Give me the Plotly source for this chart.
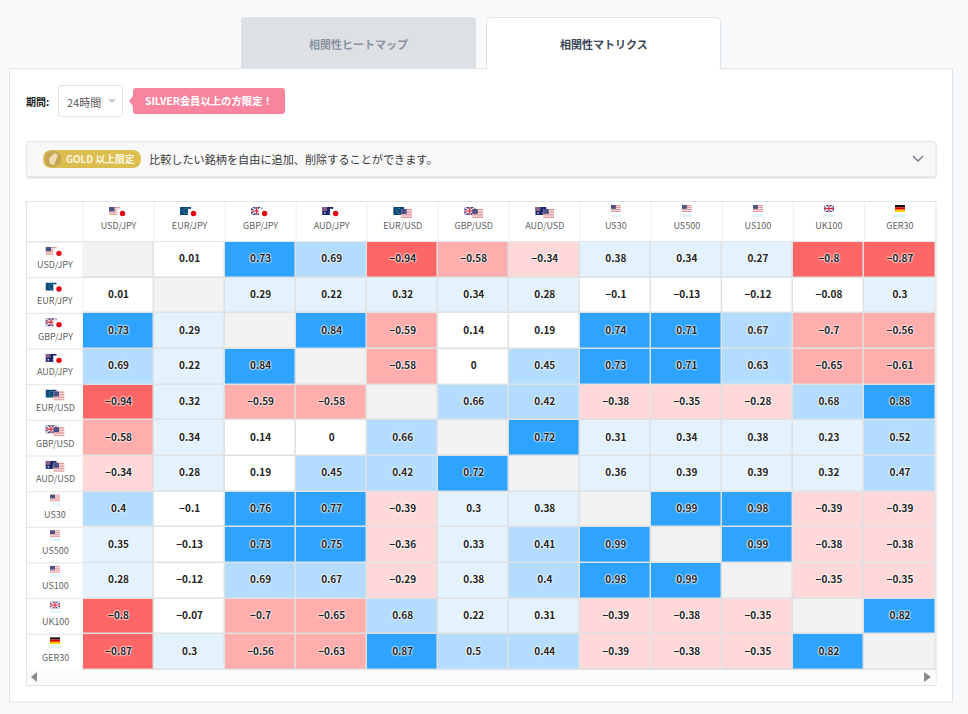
import base64
import plotly.graph_objects as go

W, H = 968, 714
FONT = "Noto Sans CJK JP"

symbols = ["USD/JPY", "EUR/JPY", "GBP/JPY", "AUD/JPY", "EUR/USD", "GBP/USD", "AUD/USD",
           "US30", "US500", "US100", "UK100", "GER30"]

usd_jpy = [None, 0.01, 0.73, 0.69, -0.94, -0.58, -0.34, 0.38, 0.34, 0.27, -0.8, -0.87]
eur_jpy = [0.01, None, 0.29, 0.22, 0.32, 0.34, 0.28, -0.1, -0.13, -0.12, -0.08, 0.3]
gbp_jpy = [0.73, 0.29, None, 0.84, -0.59, 0.14, 0.19, 0.74, 0.71, 0.67, -0.7, -0.56]
aud_jpy = [0.69, 0.22, 0.84, None, -0.58, 0, 0.45, 0.73, 0.71, 0.63, -0.65, -0.61]
eur_usd = [-0.94, 0.32, -0.59, -0.58, None, 0.66, 0.42, -0.38, -0.35, -0.28, 0.68, 0.88]
gbp_usd = [-0.58, 0.34, 0.14, 0, 0.66, None, 0.72, 0.31, 0.34, 0.38, 0.23, 0.52]
aud_usd = [-0.34, 0.28, 0.19, 0.45, 0.42, 0.72, None, 0.36, 0.39, 0.39, 0.32, 0.47]
us30 = [0.4, -0.1, 0.76, 0.77, -0.39, 0.3, 0.38, None, 0.99, 0.98, -0.39, -0.39]
us500 = [0.35, -0.13, 0.73, 0.75, -0.36, 0.33, 0.41, 0.99, None, 0.99, -0.38, -0.38]
us100 = [0.28, -0.12, 0.69, 0.67, -0.29, 0.38, 0.4, 0.98, 0.99, None, -0.35, -0.35]
uk100 = [-0.8, -0.07, -0.7, -0.65, 0.68, 0.22, 0.31, -0.39, -0.38, -0.35, None, 0.82]
ger30 = [-0.87, 0.3, -0.56, -0.63, 0.87, 0.5, 0.44, -0.39, -0.38, -0.35, 0.82, None]

matrix = [usd_jpy, eur_jpy, gbp_jpy, aud_jpy, eur_usd, gbp_usd, aud_usd,
          us30, us500, us100, uk100, ger30]

# step colours; -0.8 itself belongs to the darkest red
bin_edges = [-1, -0.79, -0.5, -0.2, 0.2, 0.395, 0.7, 1]
bin_colors = ["#ff6666", "#ffadad", "#ffd9d9", "#ffffff", "#e3f2fd", "#b3dcff", "#2ea3ff"]

# table body in pixels
TX0, TX1, TY0, TY1 = 83, 935.5, 242, 670


def fx(x):
    return x / W


def fy(y):
    return 1 - y / H


def step_scale():
    out = []
    for i, c in enumerate(bin_colors):
        out.append([(bin_edges[i] + 1) / 2, c])
        out.append([(bin_edges[i + 1] + 1) / 2, c])
    return out


def label(v):
    if v is None:
        return ""
    return str(v).replace("-", "−")


def rect(x0, y0, x1, y1, fill, line=None, r=0, tabs=False, width=1, opacity=1, layer="below"):
    # rounded box as svg path, tabs=True only rounds the top corners
    if r == 0:
        p = f"M{fx(x0)},{fy(y0)}L{fx(x1)},{fy(y0)}L{fx(x1)},{fy(y1)}L{fx(x0)},{fy(y1)}Z"
    else:
        rx, ry = fx(r), r / H
        p = (f"M{fx(x0)},{fy(y0) - ry}Q{fx(x0)},{fy(y0)} {fx(x0) + rx},{fy(y0)}"
             f"L{fx(x1) - rx},{fy(y0)}Q{fx(x1)},{fy(y0)} {fx(x1)},{fy(y0) - ry}")
        if tabs:
            p += f"L{fx(x1)},{fy(y1)}L{fx(x0)},{fy(y1)}Z"
        else:
            p += (f"L{fx(x1)},{fy(y1) + ry}Q{fx(x1)},{fy(y1)} {fx(x1) - rx},{fy(y1)}"
                  f"L{fx(x0) + rx},{fy(y1)}Q{fx(x0)},{fy(y1)} {fx(x0)},{fy(y1) + ry}Z")
    return dict(type="path", xref="paper", yref="paper", path=p, fillcolor=fill, opacity=opacity, layer=layer,
                line=dict(color=line or "rgba(0,0,0,0)", width=width if line else 0))


def poly(points, fill=None, line=None, width=1):
    p = "M" + "L".join(f"{fx(x)},{fy(y)}" for x, y in points)
    if fill:
        p += "Z"
    return dict(type="path", xref="paper", yref="paper", path=p, layer="above",
                fillcolor=fill or "rgba(0,0,0,0)",
                line=dict(color=line or "rgba(0,0,0,0)", width=width if line else 0))


def hline(x0, y0, x1, y1, color):
    return dict(type="line", xref="paper", yref="paper", x0=fx(x0), x1=fx(x1), y0=fy(y0), y1=fy(y1),
                layer="below", line=dict(color=color, width=1))


def text(x, y, s, size=11, color="#333", anchor="left", bold=False):
    return dict(xref="paper", yref="paper", x=fx(x), y=fy(y), text=f"<b>{s}</b>" if bold else s,
                showarrow=False, xanchor=anchor, yanchor="middle",
                font=dict(family=FONT, size=size, color=color))


# little flags, drawn as svg so they stay with the file
def flag_us(x, y, w, h):
    s = f'<rect x="{x}" y="{y}" width="{w}" height="{h}" fill="#f6dcdc"/>'
    for i in range(0, 7, 2):
        s += f'<rect x="{x}" y="{y + h * i / 7}" width="{w}" height="{h / 7}" fill="#e39a9e"/>'
    s += f'<rect x="{x}" y="{y}" width="{w * 0.5}" height="{h * 0.55}" fill="#4d5286"/>'
    return s


def flag_jp(x, y, w, h):
    return (f'<rect x="{x}" y="{y}" width="{w}" height="{h}" fill="#fff" stroke="#e8e8e8" stroke-width="0.4"/>'
            f'<circle cx="{x + w / 2}" cy="{y + h / 2}" r="{h * 0.3}" fill="#e60012"/>')


def flag_eu(x, y, w, h):
    return (f'<rect x="{x}" y="{y}" width="{w}" height="{h}" fill="#0b4a78"/>'
            f'<path d="M{x + w * 0.6},{y + h * 0.2}A{w * 0.2},{h * 0.32} 0 1 0 {x + w * 0.6},{y + h * 0.8}" '
            f'fill="none" stroke="#3f8f9f" stroke-width="0.7"/>')


def flag_gb(x, y, w, h):
    return (f'<rect x="{x}" y="{y}" width="{w}" height="{h}" fill="#2c3a80"/>'
            f'<path d="M{x},{y}L{x + w},{y + h}M{x + w},{y}L{x},{y + h}" stroke="#f4e8ea" stroke-width="1.5"/>'
            f'<path d="M{x + w / 2},{y}V{y + h}M{x},{y + h / 2}H{x + w}" stroke="#f4e8ea" stroke-width="2.2"/>'
            f'<path d="M{x + w / 2},{y}V{y + h}M{x},{y + h / 2}H{x + w}" stroke="#d8253f" stroke-width="1.1"/>')


def flag_au(x, y, w, h):
    return (f'<rect x="{x}" y="{y}" width="{w}" height="{h}" fill="#16256e"/>'
            f'<rect x="{x}" y="{y}" width="{w * 0.45}" height="{h * 0.5}" fill="#8c5f86"/>'
            f'<circle cx="{x + w * 0.25}" cy="{y + h * 0.75}" r="0.8" fill="#fff"/>'
            f'<circle cx="{x + w * 0.75}" cy="{y + h * 0.3}" r="0.6" fill="#fff"/>'
            f'<circle cx="{x + w * 0.7}" cy="{y + h * 0.75}" r="0.6" fill="#fff"/>')


def flag_de(x, y, w, h):
    return (f'<rect x="{x}" y="{y}" width="{w}" height="{h / 3}" fill="#111"/>'
            f'<rect x="{x}" y="{y + h / 3}" width="{w}" height="{h / 3}" fill="#dd0000"/>'
            f'<rect x="{x}" y="{y + 2 * h / 3}" width="{w}" height="{h / 3}" fill="#ffce00"/>')


FLAGS = {"USD": flag_us, "JPY": flag_jp, "EUR": flag_eu, "GBP": flag_gb, "AUD": flag_au,
         "US30": flag_us, "US500": flag_us, "US100": flag_us, "UK100": flag_gb, "GER30": flag_de}


def svg_uri(body, w, h):
    svg = f'<svg xmlns="http://www.w3.org/2000/svg" width="{w * 4}" height="{h * 4}" viewBox="0 0 {w} {h}">{body}</svg>'
    return "data:image/svg+xml;base64," + base64.b64encode(svg.encode()).decode()


def flag_image(sym, cx, top):
    if "/" in sym:
        a, b = sym.split("/")
        body = FLAGS[a](0, 0, 11, 8) + FLAGS[b](8, 2, 11, 9)
        w, h = 19, 11
        # pairs sit a bit lower than the index flags
        top += 2
    else:
        w, h = 10, 7
        body = FLAGS[sym](0, 0, w, h)
    return dict(source=svg_uri(body, w, h), xref="paper", yref="paper", x=fx(cx - w / 2), y=fy(top),
                sizex=w / W, sizey=h / H, xanchor="left", yanchor="top", sizing="stretch", layer="above")


col_w = (TX1 - TX0) / len(symbols)
row_h = (TY1 - TY0) / len(symbols)

shapes = [
    rect(241, 17, 476, 69, "#dde1e4", r=4, tabs=True),
    rect(9.5, 68.5, 952.5, 702, "#ffffff", "#dde3e6"),
    rect(486.5, 17.5, 720.5, 69, "#ffffff", "#dde3e6", r=4, tabs=True),
    rect(487.5, 66, 719.5, 70.5, "#ffffff"),
    # select box and tip
    rect(58.5, 85.5, 122.5, 116.5, "#ffffff", "#dde3e6", r=3),
    poly([(108, 99), (116, 99), (112, 103)], fill="#c6cbd1"),
    poly([(133, 96), (129, 101), (133, 106)], fill="#f8849e"),
    rect(133, 88, 285, 114, "#f8849e", r=3),
    # accordion with soft shadow
    rect(26, 143, 937, 179, "rgba(0,0,0,0.05)", r=3),
    rect(26.5, 142, 936.5, 178, "rgba(0,0,0,0.06)", r=3),
    rect(26.5, 141.5, 936, 176.5, "#f8f8f8", "#e3e6e8", r=3),
    rect(43, 150, 141, 168, "#dcbe50", r=9),
    rect(45, 151, 61, 167, "#c6a552", r=8),
    poly([(55, 153), (58, 155), (54, 165), (50, 164), (49, 158)], fill="#ecdcae"),
    poly([(913, 156), (918, 161), (923, 156)], line="#6e7a8c", width=1.4),
    # table frame
    rect(26.5, 201.5, 936, 685.5, "#ffffff", "#dde3e6"),
    rect(27, 670, 935.5, 685, "#fbfbfb"),
    rect(TX0, TY0, TX1, TY1, "#dfe0e1"),
    poly([(37, 672), (31, 677), (37, 682)], fill="#8a8a8a"),
    poly([(924, 672), (931, 677), (924, 682)], fill="#8a8a8a"),
    hline(27, 241.5, TX1, 241.5, "#e3e6ee"),
]
for i in range(len(symbols)):
    shapes.append(hline(TX0 + i * col_w, 202, TX0 + i * col_w, TY0, "#eeeeee"))
    shapes.append(hline(27, TY0 + i * row_h, TX0, TY0 + i * row_h, "#e6e6e6"))
shapes.append(hline(TX0, TY0, TX0, TY1, "#e6e6e6"))

images = []
annotations = [
    text(358.5, 44, "相関性ヒートマップ", 11, "#8a92a3", "center", True),
    text(603.5, 44, "相関性マトリクス", 11, "#3c4858", "center", True),
    text(24, 101.5, "期間:", 10, "#222", bold=True),
    text(65, 102, "24時間", 11, "#555"),
    text(143, 101, "SILVER会員以上の方限定！", 10.35, "#ffffff", bold=True),
    text(64, 159, "GOLD 以上限定", 9.8, "#fbf6e2", bold=True),
    text(147, 159, "比較したい銘柄を自由に追加、削除することができます。", 11.15, "#3a3a3a"),
]

for i, sym in enumerate(symbols):
    cx = TX0 + (i + 0.5) * col_w
    images.append(flag_image(sym, cx, 205))
    # row label, centred in the first column
    cy = TY0 + (i + 0.5) * row_h
    images.append(flag_image(sym, 55, cy - 15))
    annotations.append(dict(xref="paper", yref="y", x=fx(55), y=sym, text=sym, showarrow=False,
                            xanchor="center", yanchor="middle", yshift=-5,
                            font=dict(family=FONT, size=9, color="#5f5f5f")))
    if "/" not in sym:
        annotations.append(text(cx, 215, sym, 4, "#a6e6f7", "center"))
        annotations.append(text(55, cy - 5.5, sym, 3.6, "#a6e6f7", "center"))

diag = [[1 if i == j else None for j in range(len(symbols))] for i in range(len(symbols))]

# cell numbers go on a text trace, the halo only shows up there
cell_x, cell_y, cell_text = [], [], []
for i, row in enumerate(matrix):
    for j, v in enumerate(row):
        if v is not None:
            cell_x.append(symbols[j])
            cell_y.append(symbols[i])
            cell_text.append(label(v))

fig = go.Figure()
fig.add_trace(go.Heatmap(
    z=diag, x=symbols, y=symbols, xgap=1.5, ygap=1.5, showscale=False, hoverinfo="skip",
    colorscale=[[0, "#f2f2f2"], [1, "#f2f2f2"]],
))
fig.add_trace(go.Heatmap(
    z=matrix, x=symbols, y=symbols, xgap=1.5, ygap=1.5, showscale=False,
    zmin=-1, zmax=1, colorscale=step_scale(),
    hovertemplate="%{y} / %{x}: %{z}<extra></extra>",
))
fig.add_trace(go.Scatter(
    x=cell_x, y=cell_y, text=cell_text, mode="text", textposition="middle center", hoverinfo="skip",
    textfont=dict(family=FONT, size=10, color="#222222", weight=700,
                  shadow="0 0 2px #ffffff, 0 0 2px #ffffff, 0 0 2px #ffffff"),
))

last = len(symbols) - 0.5
fig.update_layout(
    width=W, height=H,
    margin=dict(l=0, r=0, t=0, b=0),
    paper_bgcolor="#f9fafc",
    plot_bgcolor="rgba(0,0,0,0)",
    showlegend=False,
    font=dict(family=FONT),
    shapes=shapes,
    images=images,
    annotations=annotations,
    xaxis=dict(domain=[fx(TX0), fx(TX1)], side="top", type="category", categoryorder="array",
               categoryarray=symbols, range=[-0.5, last], showgrid=False, zeroline=False, showline=False,
               fixedrange=True, ticks="outside", ticklen=8, tickcolor="rgba(0,0,0,0)",
               tickfont=dict(family=FONT, size=9, color="#5f5f5f")),
    yaxis=dict(domain=[fy(TY1), fy(TY0)], type="category", categoryorder="array", categoryarray=symbols,
               range=[last, -0.5], showgrid=False, zeroline=False, showline=False, fixedrange=True,
               showticklabels=False, ticks=""),
)

fig.write_html("out.html", config={"displayModeBar": False},
               post_script="document.body.style.margin='0';document.body.style.background='#f9fafc';")
